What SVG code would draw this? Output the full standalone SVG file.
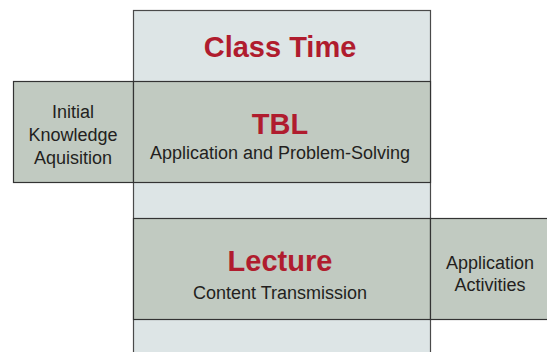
<svg xmlns="http://www.w3.org/2000/svg" width="547" height="352" viewBox="0 0 547 352">
<style>
.col{fill:#dde5e6;stroke:#4a4a4a;stroke-width:1.2}
.band{fill:#c1cac1;stroke:#333;stroke-width:1.2}
.title{font-family:"Liberation Sans",Arial,sans-serif;font-weight:bold;font-size:29px;fill:#b01c2e;text-anchor:middle}
.sub{font-family:"Liberation Sans",Arial,sans-serif;font-size:18px;fill:#231f20;text-anchor:middle}
</style>
<rect width="547" height="352" fill="#fff"/>
<g id="class-time">
<rect class="col" x="133.5" y="10.5" width="297" height="360"/>
<text class="title" x="280" y="56.5">Class Time</text>
</g>
<g id="initial">
<rect class="band" x="13.5" y="81.5" width="120" height="101"/>
<text class="sub" x="73" y="117.5">Initial</text>
<text class="sub" x="73" y="140.5">Knowledge</text>
<text class="sub" x="73" y="163.5">Aquisition</text>
</g>
<g id="tbl">
<rect class="band" x="133.5" y="81.5" width="297" height="101"/>
<text class="title" x="280" y="134">TBL</text>
<text class="sub" x="280" y="158.5">Application and Problem-Solving</text>
</g>
<g id="lecture">
<rect class="band" x="133.5" y="218.5" width="297" height="101"/>
<text class="title" x="280" y="271">Lecture</text>
<text class="sub" x="280" y="298.5">Content Transmission</text>
</g>
<g id="application">
<rect class="band" x="430.5" y="218.5" width="130" height="101"/>
<text class="sub" x="490" y="268.5">Application</text>
<text class="sub" x="490" y="290.5">Activities</text>
</g>
<g id="connectors"/>
</svg>
